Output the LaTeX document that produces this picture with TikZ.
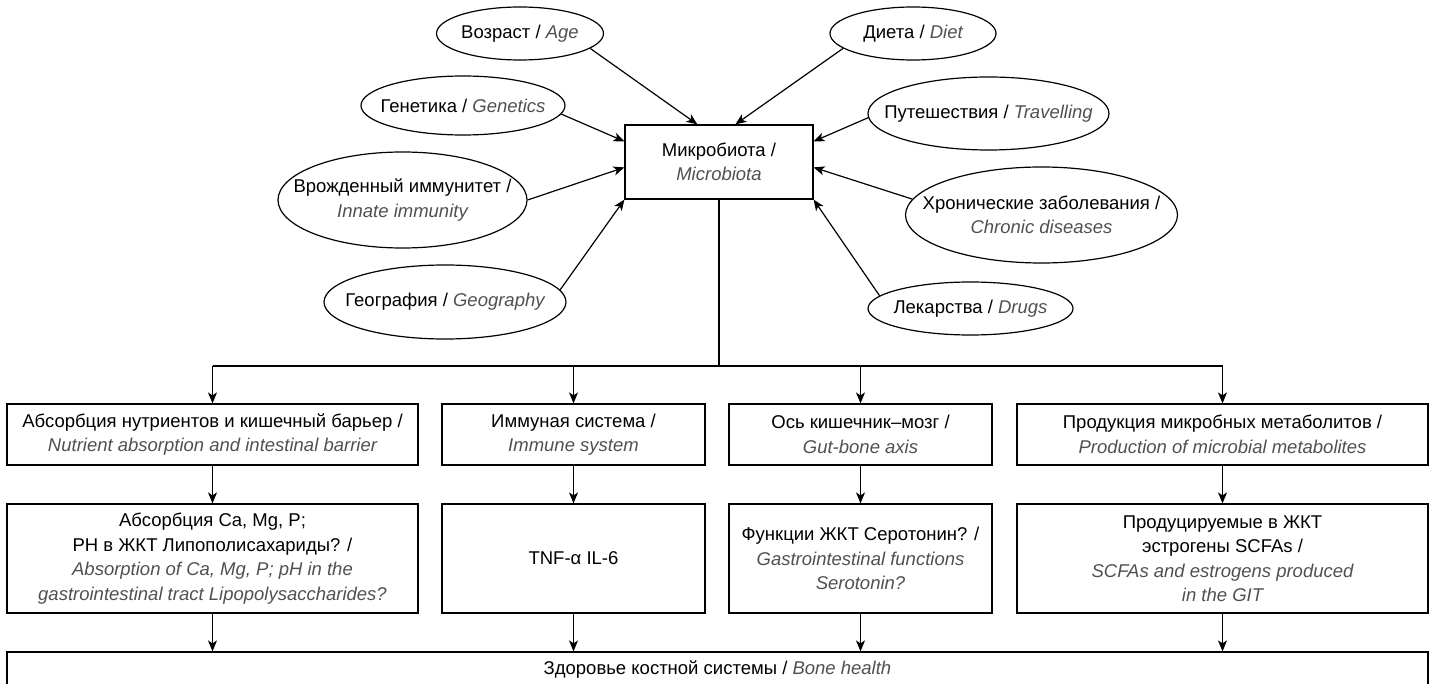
\documentclass[tikz,border=0pt]{standalone}
\usepackage{fontspec}
\setmainfont{Liberation Sans}
\usetikzlibrary{shapes.geometric,arrows.meta,calc}
\definecolor{engray}{RGB}{80,80,80}
\newcommand\en[1]{{\color{engray}\itshape #1}}
\tikzset{
  txt/.style={inner sep=0pt, align=center, font=\fontsize{18.5}{24.5}\selectfont},
  ell/.style={draw, ellipse, inner sep=0pt, line width=1.2pt},
  box/.style={draw, rectangle, inner sep=0pt, line width=1.2pt, align=center, font=\fontsize{18.5}{24.5}\selectfont},
  arr/.style={-{Stealth[length=11pt,width=9pt,inset=3pt]}, line width=1.2pt},
  ln/.style={line width=1.2pt},
}
\begin{document}
\begin{tikzpicture}[x=1pt,y=-1pt]
\useasboundingbox (0,0) rectangle (1435,684);
% central box
\node[box, minimum width=188, minimum height=74] (mb) at (719,162) {Микробиота /\\ \en{Microbiota}};
% ellipses
\node[ell, minimum width=167, minimum height=53] (age) at (520,33.5) {};
\node[txt] (age-t) at (age.center) {Возраст / \en{Age}};
\node[ell, minimum width=204, minimum height=59] (gen) at (463,105.5) {};
\node[txt] (gen-t) at (gen.center) {Генетика / \en{Genetics}};
\node[ell, minimum width=249, minimum height=96] (inn) at (402.5,200) {};
\node[txt] (inn-t) at (inn.center) {Врожденный иммунитет /\\ \en{Innate immunity}};
\node[ell, minimum width=242, minimum height=74] (geo) at (445,302) {};
\node[txt] (geo-t) at (geo.center) {География / \en{Geography}};
\node[ell, minimum width=166, minimum height=53] (diet) at (913,33.5) {};
\node[txt] (diet-t) at (diet.center) {Диета / \en{Diet}};
\node[ell, minimum width=241, minimum height=73] (trav) at (988.5,113.5) {};
\node[txt] (trav-t) at (trav.center) {Путешествия / \en{Travelling}};
\node[ell, minimum width=272, minimum height=96] (chr) at (1041.5,215) {};
\node[txt] (chr-t) at (chr.center) {Хронические заболевания /\\ \en{Chronic diseases}};
\node[ell, minimum width=205, minimum height=53] (drug) at (970.5,308.5) {};
\node[txt] (drug-t) at (drug.center) {Лекарства / \en{Drugs}};
% target points on the central box
\coordinate (mbT1) at ($(mb.north west)+(73,0)$);
\coordinate (mbT2) at ($(mb.north west)+(111,0)$);
\coordinate (mbL1) at ($(mb.north west)+(0,17)$);
\coordinate (mbL2) at ($(mb.north west)+(0,43)$);
\coordinate (mbR1) at ($(mb.north east)+(0,17)$);
\coordinate (mbR2) at ($(mb.north east)+(0,43)$);
\draw[arr] (age.-12) -- (mbT1);
\draw[arr] (diet.192) -- (mbT2);
\draw[arr] (gen.-5) -- (mbL1);
\draw[arr] (inn.0) -- (mbL2);
\draw[arr] (geo.6) -- (mb.south west);
\draw[arr] (trav.182) -- (mbR1);
\draw[arr] (chr.173) -- (mbR2);
\draw[arr] (drug.172) -- (mb.south east);
% row 1
\node[box, minimum width=411, minimum height=61] (A1) at (212.5,434.5) {Абсорбция нутриентов и кишечный барьер /\\ \en{Nutrient absorption and intestinal barrier}};
\node[box, minimum width=263, minimum height=61] (B1) at (573.5,434.5) {Иммуная система /\\ \en{Immune system}};
\node[box, minimum width=263, minimum height=61] (C1) at (860.5,434.5) {Ось кишечник–мозг /\\ \en{Gut-bone axis}};
\node[box, minimum width=411, minimum height=61] (D1) at (1222.5,434.5) {Продукция микробных метаболитов /\\ \en{Production of microbial metabolites}};
% row 2
\node[box, minimum width=411, minimum height=109] (A2) at (212.5,558.5) {Абсорбция Ca, Mg, P;\\ PH в ЖКТ Липополисахариды? /\\ \en{Absorption of Ca, Mg, P; pH in the}\\ \en{gastrointestinal tract Lipopolysaccharides?}};
\node[box, minimum width=263, minimum height=109] (B2) at (573.5,558.5) {TNF-α IL-6};
\node[box, minimum width=263, minimum height=109] (C2) at (860.5,558.5) {Функции ЖКТ Серотонин? /\\ \en{Gastrointestinal functions}\\ \en{Serotonin?}};
\node[box, minimum width=411, minimum height=109] (D2) at (1222.5,558.5) {Продуцируемые в ЖКТ\\ эстрогены SCFAs /\\ \en{SCFAs and estrogens produced}\\ \en{in the GIT}};
% bottom
\node[box, minimum width=1421, minimum height=36] (bot) at (717.5,670) {Здоровье костной системы / \en{Bone health}};
% tree connectors
\coordinate (j) at (719,366);
\draw[ln] (mb.south) -- (j);
\draw[ln] (j -| A1.north) -- (j -| D1.north);
\foreach \n in {A,B,C,D}{
  \draw[arr] (j -| \n1.north) -- (\n1.north);
  \draw[arr] (\n1.south) -- (\n2.north);
  \draw[arr] (\n2.south) -- (\n2.south |- bot.north);
}
\end{tikzpicture}
\end{document}
